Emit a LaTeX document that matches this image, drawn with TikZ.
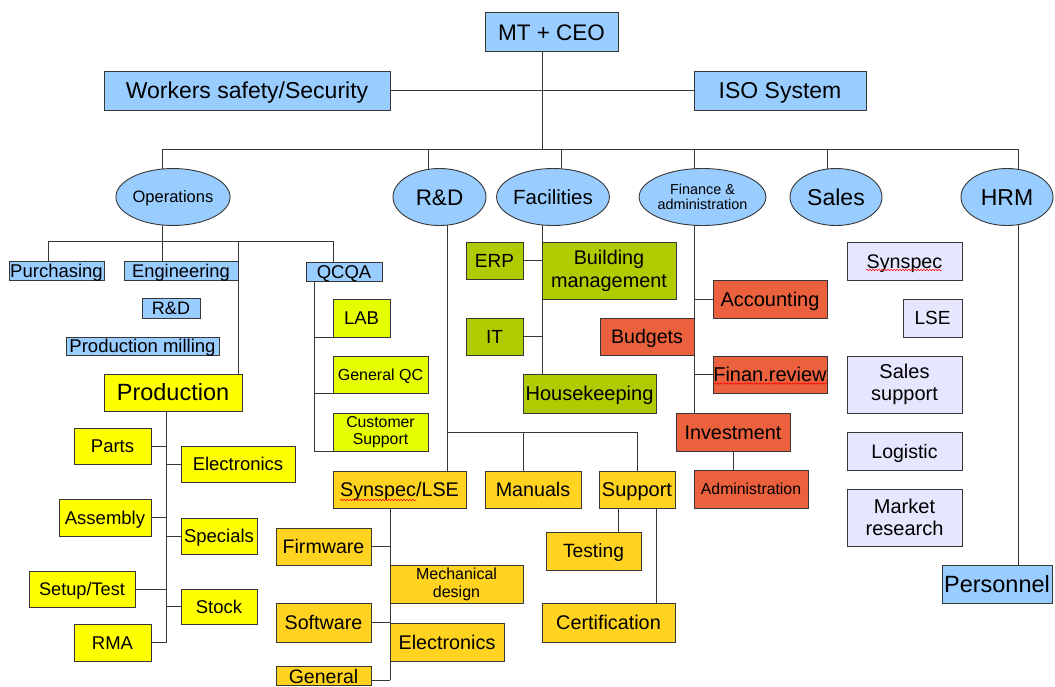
\documentclass[tikz,border=0pt]{standalone}
\usepackage{fontspec}
\setmainfont{Liberation Sans}
\usetikzlibrary{shapes.geometric,decorations.pathmorphing}
\definecolor{cblue}{RGB}{153,204,255}
\definecolor{cyel}{RGB}{255,255,0}
\definecolor{clime}{RGB}{230,255,0}
\definecolor{colive}{RGB}{176,204,0}
\definecolor{cgold}{RGB}{255,211,32}
\definecolor{cred}{RGB}{235,97,61}
\definecolor{clav}{RGB}{230,230,255}
\definecolor{cline}{RGB}{55,55,55}
\pgfdeclarelayer{back}
\pgfdeclarelayer{bg}
\pgfsetlayers{back,bg,main}
\begin{document}
\begin{tikzpicture}[x=1pt,y=-1pt,
  box/.style={draw=cline, line width=0.9pt, inner sep=0pt, outer sep=0pt, align=center},
  ell/.style={ellipse, draw=cline, line width=0.9pt, fill=cblue, inner sep=0pt, outer sep=0pt, align=center},
  wh/.style 2 args={minimum width=#1pt, minimum height=#2pt},
  fs/.style={font=\fontsize{#1}{#1}\selectfont, text height=0.72*#1pt, text depth=0pt},
  fm/.style 2 args={font=\fontsize{#1}{#2}\selectfont},
  conn/.style={draw=cline, line width=0.9pt},
  wavy/.style={draw=red, line width=0.5pt, decorate, decoration={snake, amplitude=0.8pt, segment length=3pt}}]
\useasboundingbox (0,0) rectangle (1055,686);
\begin{pgfonlayer}{back}
\fill[white] (0,0) rectangle (1055,686);
\end{pgfonlayer}

% top level
\node[box, fill=cblue, wh={133}{39}, fs=22.5] (ceo) at (551.5,32) {MT + CEO};
\node[box, fill=cblue, wh={286}{39}, fs=23] (wss) at (247,90.5) {Workers safety/Security};
\node[box, fill=cblue, wh={172}{39}, fs=23] (iso) at (780,90.5) {ISO System};

% departments
\node[ell, wh={92}{57}, fs=16.5] (ops) at (173,197) {Operations};
\node[ell, wh={93}{57}, fs=22.5] (rd) at (439.5,197) {R\&D};
\node[ell, wh={94}{57}, fs=20.5] (fac) at (553,197) {Facilities};
\node[ell, wh={93}{57}, fm={14.4}{15.5}] (fin) at (702.5,197) {Finance \&\\administration};
\node[ell, wh={92}{57}, fs=23] (sales) at (836,197) {Sales};
\node[ell, wh={92}{57}, fs=23] (hrm) at (1007,197) {HRM};

% operations
\node[box, fill=cblue, wh={95}{19}, fs=18.5] (purch) at (56.5,270.5) {Purchasing};
\node[box, fill=cblue, wh={114}{19}, fs=18.3] (eng) at (181,270.5) {Engineering};
\node[box, fill=cblue, wh={76}{19}, fs=18.5] (qcqa) at (344,271.5) {QCQA};
\node[box, fill=cblue, wh={58}{20}, fs=18] (rdsm) at (171,308) {R\&D};
\node[box, fill=cblue, wh={153}{18}, fs=18.5] (pmill) at (142.5,346) {Production milling};
\node[box, fill=cyel, wh={138}{37}, fs=23.5] (prod) at (173,392.5) {Production};
\node[box, fill=cyel, wh={77}{36}, fs=18.5] (parts) at (112.5,446) {Parts};
\node[box, fill=cyel, wh={114}{36}, fs=18.5] (elec) at (238,464) {Electronics};
\node[box, fill=cyel, wh={92}{37}, fs=18.5] (asm) at (105,517.5) {Assembly};
\node[box, fill=cyel, wh={76}{36}, fs=18.5] (spec) at (219,536) {Specials};
\node[box, fill=cyel, wh={106}{36}, fs=18.2] (setup) at (82,589) {Setup/Test};
\node[box, fill=cyel, wh={76}{35}, fs=18.5] (stock) at (219,606.5) {Stock};
\node[box, fill=cyel, wh={77}{37}, fs=18.5] (rma) at (112.5,642.5) {RMA};
\node[box, fill=clime, wh={57}{38}, fs=18.5] (lab) at (361.5,318) {LAB};
\node[box, fill=clime, wh={95}{37}, fs=16] (gqc) at (380.5,374.5) {General QC};
\node[box, fill=clime, wh={95}{38}, fm={15.8}{17.5}] (cs) at (380.5,432) {Customer\\Support};

% R&D
\node[box, fill=cgold, wh={133}{37}, fs=19.8] (syn) at (399.5,489.5) {Synspec/LSE};
\node[box, fill=cgold, wh={96}{37}, fs=19.7] (man) at (533,489.5) {Manuals};
\node[box, fill=cgold, wh={76}{37}, fs=20] (sup) at (637,489.5) {Support};
\node[box, fill=cgold, wh={95}{37}, fs=19.6] (firm) at (323.5,546.5) {Firmware};
\node[box, fill=cgold, wh={133}{38}, fm={16}{18}] (mech) at (456.5,584) {Mechanical\\design};
\node[box, fill=cgold, wh={95}{39}, fs=19.7] (soft) at (323.5,622.5) {Software};
\node[box, fill=cgold, wh={114}{38}, fs=19.8] (elec2) at (447,642) {Electronics};
\node[box, fill=cgold, wh={95}{19}, fs=19.5] (gen) at (323.5,676) {General};
\node[box, fill=cgold, wh={95}{38}, fs=19.2] (test) at (593.5,551) {Testing};
\node[box, fill=cgold, wh={133}{39}, fs=19.8] (cert) at (608.5,622.5) {Certification};

% facilities
\node[box, fill=colive, wh={57}{37}, fs=19] (erp) at (494.5,260.5) {ERP};
\node[box, fill=colive, wh={134}{57}, fm={19.8}{23}] (bm) at (609,270.5) {Building\\management};
\node[box, fill=colive, wh={57}{37}, fs=19] (it) at (494.5,336.5) {IT};
\node[box, fill=colive, wh={133}{39}, fs=20] (hk) at (589.5,393.5) {Housekeeping};

% finance
\node[box, fill=cred, wh={114}{38}, fs=20] (acc) at (770,299) {Accounting};
\node[box, fill=cred, wh={94}{37}, fs=19.6] (bud) at (647,336.5) {Budgets};
\node[box, fill=cred, wh={114}{37}, fs=20] (fr) at (770,374.5) {Finan.review};
\node[box, fill=cred, wh={114}{38}, fs=19.8] (inv) at (733,432) {Investment};
\node[box, fill=cred, wh={114}{38}, fs=15.8] (adm) at (751,489) {Administration};

% sales
\node[box, fill=clav, wh={115}{38}, fs=19.7] (ssyn) at (904.5,261) {Synspec};
\node[box, fill=clav, wh={59}{38}, fs=19] (lse) at (932.5,318) {LSE};
\node[box, fill=clav, wh={115}{57}, fm={20}{22}] (ssup) at (904.5,384.5) {Sales\\support};
\node[box, fill=clav, wh={115}{38}, fs=19.5] (log) at (904.5,451) {Logistic};
\node[box, fill=clav, wh={115}{57}, fm={20}{22}] (mr) at (904.5,517.5) {Market\\research};

% HRM
\node[box, fill=cblue, wh={110}{38}, fs=23.5] (pers) at (997,584) {Personnel};

% spell-check underlines
\draw[wavy] (340,500) -- (416,500);
\draw[wavy] (714,383.5) -- (827,383.5);
\draw[wavy] (866,270) -- (942,270);

\begin{pgfonlayer}{bg}
% top
\coordinate (tr) at (542,149);
\draw[conn] (ceo.south -| tr) -- (tr);
\draw[conn] (wss.east) -- (iso.west);
\coordinate (bL) at (162,149);
\coordinate (b2) at (428,149);
\coordinate (b3) at (561,149);
\coordinate (b4) at (694,149);
\coordinate (b5) at (827,149);
\coordinate (bR) at (1018,149);
\draw[conn] (bL) -- (bR);
\draw[conn] (b2) -- (b2 |- rd.center);
\draw[conn] (b3) -- (b3 |- fac.center);
\draw[conn] (b4) -- (b4 |- fin.center);
\draw[conn] (b5) -- (b5 |- sales.center);
% operations
\coordinate (oL) at (48,241);
\coordinate (o1) at (162,241);
\coordinate (o3) at (238,241);
\coordinate (oR) at (333,241);
\draw[conn] (bL) -- (o1);
\draw[conn] (oL) -- (oR);
\draw[conn] (oL) -- (oL |- purch.north);
\draw[conn] (o1) -- (o1 |- eng.north);
\draw[conn] (o3) -- (o3 |- prod.north);
\draw[conn] (oR) -- (oR |- qcqa.north);
\coordinate (pT) at (166,411);
\coordinate (pB) at (166,643);
\draw[conn] (pT) -- (pB);
\foreach \n in {parts,asm,setup,rma} \draw[conn] (\n.east) -- (\n.east -| pT);
\foreach \n in {elec,spec,stock} \draw[conn] (\n.west) -- (\n.west -| pT);
\coordinate (qT) at (314,281);
\coordinate (qB) at (314,451);
\draw[conn] (qT) -- (qB);
\foreach \n in {lab,gqc,cs} \draw[conn] (\n.south west) -- (\n.south west -| qT);
% R&D
\coordinate (r1) at (447,197);
\coordinate (rH) at (447,432);
\coordinate (rM) at (523,432);
\coordinate (rH2) at (637,432);
\draw[conn] (r1) -- (r1 |- syn.north);
\draw[conn] (rH) -- (rH2);
\draw[conn] (rM) -- (rM |- man.north);
\draw[conn] (rH2) -- (sup.north);
\coordinate (sT) at (390,508);
\coordinate (sB) at (390,680);
\draw[conn] (sT) -- (sB);
\draw[conn] (firm.east) -- (firm.east -| sT);
\draw[conn] (soft.east) -- (soft.east -| sT);
\draw[conn] (sB -| gen.east) -- (sB);
\coordinate (u1) at (618,508);
\coordinate (u2) at (656,508);
\draw[conn] (u1) -- (u1 |- test.north);
\draw[conn] (u2) -- (u2 |- cert.north);
% facilities
\coordinate (f1) at (542,197);
\draw[conn] (f1) -- (f1 |- hk.north);
\draw[conn] (erp.east) -- (erp.east -| f1);
\draw[conn] (it.east) -- (it.east -| f1);
% finance
\coordinate (n1) at (694,197);
\draw[conn] (n1) -- (n1 |- inv.north);
\draw[conn] (acc.west) -- (acc.west -| n1);
\draw[conn] (fr.west) -- (fr.west -| n1);
\coordinate (n2) at (733,451);
\draw[conn] (n2) -- (n2 |- adm.north);
% HRM
\draw[conn] (bR) -- (bR |- pers.north);
\end{pgfonlayer}
\end{tikzpicture}
\end{document}
